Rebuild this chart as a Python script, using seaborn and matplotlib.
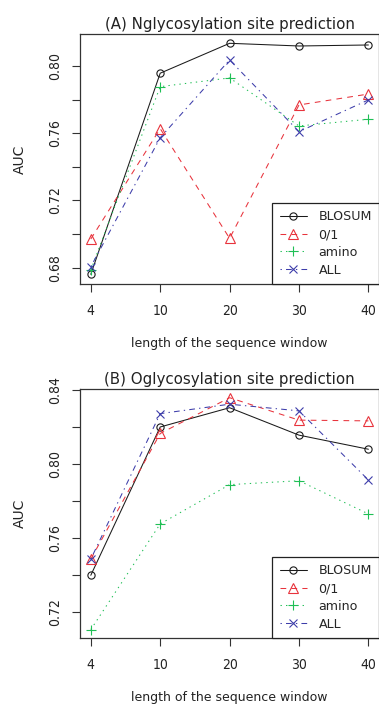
import matplotlib
matplotlib.use("Agg")
import matplotlib.pyplot as plt
from matplotlib import font_manager as fm
import seaborn as sns
import pandas as pd

# dati
WINDOW = [4, 10, 20, 30, 40]
SERIES = ["BLOSUM", "0/1", "amino", "ALL"]

N_BLOSUM = [0.676, 0.7957, 0.8135, 0.8119, 0.8125]
N_01 = [0.697, 0.7627, 0.6974, 0.7768, 0.7833]
N_AMINO = [0.6786, 0.7877, 0.7929, 0.7643, 0.7683]
N_ALL = [0.6805, 0.7573, 0.8036, 0.7609, 0.7798]

O_BLOSUM = [0.740, 0.820, 0.8304, 0.8156, 0.808]
O_01 = [0.7487, 0.8165, 0.8358, 0.8237, 0.8233]
O_AMINO = [0.7107, 0.7677, 0.7889, 0.791, 0.7731]
O_ALL = [0.7487, 0.8272, 0.8323, 0.8287, 0.7914]

# tick ogni 0.02, etichette solo ogni 0.04 (come fa R)
N_TICKS = [0.68, 0.70, 0.72, 0.74, 0.76, 0.78, 0.80]
N_LABELS = ["0.68", "", "0.72", "", "0.76", "", "0.80"]
O_TICKS = [0.72, 0.74, 0.76, 0.78, 0.80, 0.82, 0.84]
O_LABELS = ["0.72", "", "0.76", "", "0.80", "", "0.84"]

# stili in stile R (type="b")
COLORS = {"BLOSUM": "#1a1a1a", "0/1": "#e8333c", "amino": "#1fbf55", "ALL": "#3d3daa"}
LINESTYLES = {"BLOSUM": "-", "0/1": (0, (5.5, 5)), "amino": (0, (1.3, 4)), "ALL": (0, (1.3, 4, 5.5, 4))}
MARKERS = {"BLOSUM": "o", "0/1": "^", "amino": "+", "ALL": "x"}
MSIZE = {"BLOSUM": 5.2, "0/1": 7, "amino": 7.5, "ALL": 6}

TXT = "#222222"

sns.set_style("white")
plt.rcParams["font.family"] = ["DejaVu Sans"]


# font stretto per le etichette degli assi, se c'e'
def narrow_font():
    try:
        p = fm.findfont(fm.FontProperties(family="Liberation Sans Narrow"), fallback_to_default=False)
        if "Narrow" in p:
            return {"family": "Liberation Sans Narrow"}, 11
    except Exception:
        pass
    p = fm.findfont(fm.FontProperties(family="DejaVu Sans", stretch="condensed"))
    if "Condensed" in p:
        return {"family": "DejaVu Sans", "stretch": "condensed"}, 10
    return {"family": "DejaVu Sans"}, 9.5


NARROW, TICK_SIZE = narrow_font()


def build_df(vals):
    rows = []
    for name, v in zip(SERIES, vals):
        for i, y in enumerate(v):
            rows.append({"pos": i + 1, "auc": y, "serie": name})
    return pd.DataFrame(rows)


def draw_panel(ax, df, title, yticks, ylabels, ylim):
    for name in SERIES:
        sub = df[df["serie"] == name]
        c = COLORS[name]
        sns.lineplot(data=sub, x="pos", y="auc", ax=ax, color=c, label=name,
                     linestyle=LINESTYLES[name], linewidth=0.75,
                     marker=MARKERS[name], markersize=MSIZE[name],
                     mfc="none", mec=c, mew=0.8, legend=False)
    ax.set_xlim(0.84, 5.16)
    ax.set_ylim(*ylim)
    ax.set_xticks(range(1, 6))
    ax.set_xticklabels([str(w) for w in WINDOW], fontsize=TICK_SIZE, **NARROW)
    ax.set_yticks(yticks)
    ax.set_yticklabels(ylabels, rotation=90, va="center", fontsize=TICK_SIZE, **NARROW)
    ax.tick_params(axis="both", direction="out", length=6, width=0.8,
                   color="#333333", pad=7, labelcolor=TXT)
    ax.tick_params(axis="x", bottom=True, pad=8)
    ax.tick_params(axis="y", left=True)
    for s in ax.spines.values():
        s.set_color("#333333")
        s.set_linewidth(0.9)
    ax.set_title(title, fontsize=10.8, pad=3.5, color=TXT)
    ax.set_xlabel("length of the sequence window", fontsize=9, labelpad=14, color=TXT)
    ax.set_ylabel("AUC", fontsize=10, labelpad=15, color=TXT)
    leg = ax.legend(loc="lower right", borderaxespad=0, prop={"size": 9.1},
                    handlelength=2.1, handletextpad=0.95, borderpad=0.6,
                    labelspacing=0.38, fancybox=False, framealpha=1)
    leg.get_frame().set_edgecolor(TXT)
    leg.get_frame().set_linewidth(0.9)


fig = plt.figure(figsize=(3.79, 7.07), dpi=100)
ax1 = fig.add_axes([0.2103, 0.598, 0.791, 0.3543])
ax2 = fig.add_axes([0.2103, 0.0972, 0.791, 0.3526])

draw_panel(ax1, build_df([N_BLOSUM, N_01, N_AMINO, N_ALL]),
           "(A) Nglycosylation site prediction", N_TICKS, N_LABELS, (0.6701, 0.8192))
draw_panel(ax2, build_df([O_BLOSUM, O_01, O_AMINO, O_ALL]),
           "(B) Oglycosylation site prediction", O_TICKS, O_LABELS, (0.706, 0.8405))

fig.savefig("out.png", dpi=100, facecolor="white")
